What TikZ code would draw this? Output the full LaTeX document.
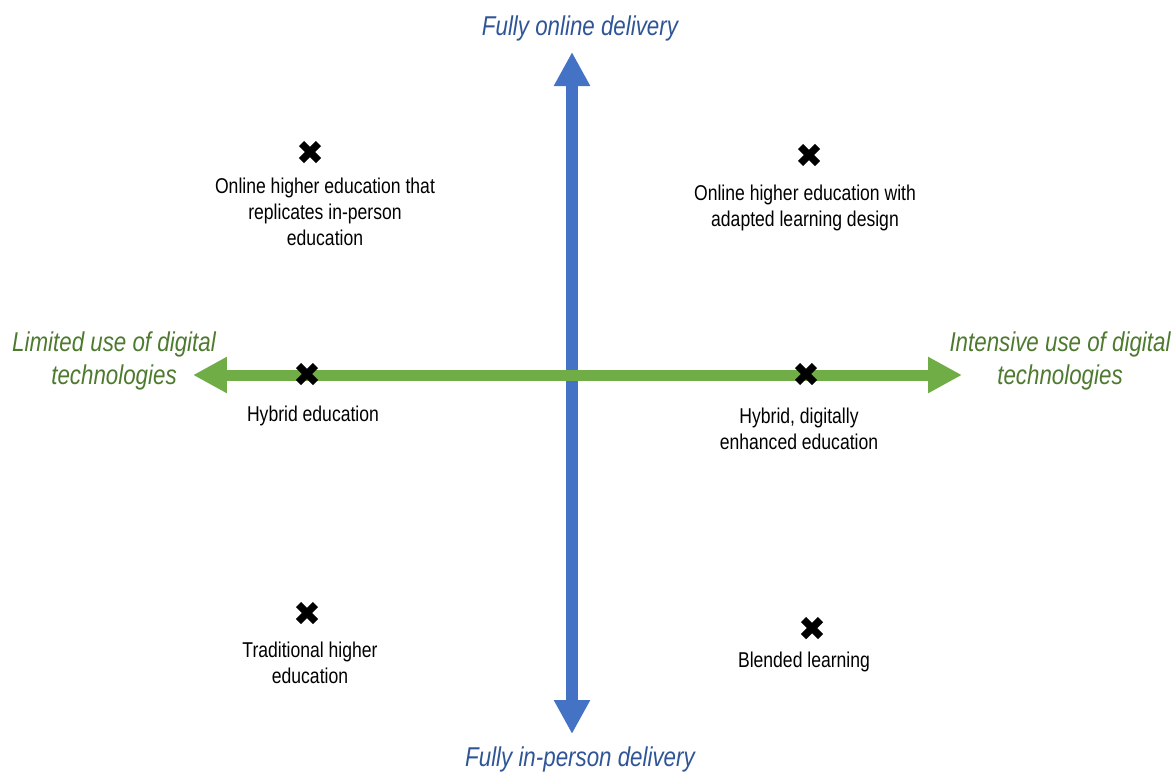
\documentclass[tikz,border=0pt]{standalone}
\usepackage{fontspec}
\setmainfont{Liberation Sans}[FakeStretch=0.82]
\usetikzlibrary{shapes.misc,arrows.meta}
\definecolor{axisblue}{HTML}{4472C4}
\definecolor{axisgreen}{HTML}{70AD47}
\definecolor{textblue}{HTML}{2F5597}
\definecolor{textgreen}{HTML}{4E7A30}

\begin{document}
\begin{tikzpicture}[x=0.02cm, y=-0.02cm,
  lbl/.style={align=center, font=\fontsize{12.2}{14.9}\selectfont},
  axislbl/.style={align=center, font=\fontsize{15.5}{18.8}\selectfont\itshape},
  xmark/.style={cross out, draw=black, line width=4.2pt, minimum size=0.34cm, inner sep=0pt, outer sep=0pt}]
\useasboundingbox (0,0) rectangle (1175,772);

\coordinate (leftend) at (193,375);
\coordinate (rightend) at (962,375);
\coordinate (topend) at (572,52);
\coordinate (bottomend) at (572,734);

\draw[axisblue, line width=0.24cm, {Triangle[length=0.68cm,width=0.68cm]}-{Triangle[length=0.68cm,width=0.68cm]}] (topend) -- (bottomend);
\draw[axisgreen, line width=0.22cm, {Triangle[length=0.68cm,width=0.68cm]}-{Triangle[length=0.68cm,width=0.68cm]}] (leftend) -- (rightend);

\node[axislbl, text=textblue] (online) at (580,28) {Fully online delivery};
\node[axislbl, text=textblue] (inperson) at (580,759) {Fully in-person delivery};
\node[axislbl, text=textgreen] (limited) at (114,361) {Limited use of digital\\technologies};
\node[axislbl, text=textgreen] (intensive) at (1060,361) {Intensive use of digital\\technologies};

\node[xmark] (repmark) at (310,152) {};
\node[xmark] (adaptmark) at (809,155) {};
\node[xmark] (hybmark) at (307,374) {};
\node[xmark] (enhmark) at (806,374) {};
\node[xmark] (tradmark) at (307,613) {};
\node[xmark] (blendmark) at (812,628) {};

\node[lbl] (replicates) at (325,212) {Online higher education that\\replicates in-person\\education};
\node[lbl] (adapted) at (805,208) {Online higher education with\\adapted learning design};
\node[lbl] (hybrid) at (313,416) {Hybrid education};
\node[lbl] (enhanced) at (799,429) {Hybrid, digitally\\enhanced education};
\node[lbl] (traditional) at (310,663) {Traditional higher\\education};
\node[lbl] (blended) at (804,662) {Blended learning};
\end{tikzpicture}
\end{document}
